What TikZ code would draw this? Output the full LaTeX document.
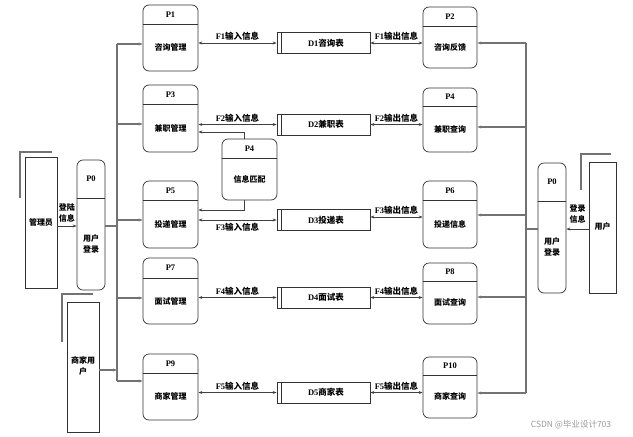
\documentclass[tikz,border=0pt]{standalone}
\usepackage{fontspec}
\setmainfont{Liberation Serif}
\newfontfamily\cjk{Noto Sans CJK SC}
\usetikzlibrary{arrows.meta,calc}
\newcommand\zh[1]{{\cjk\bfseries #1}}
\tikzset{
  pbox/.style={draw=black!80, line width=0.7pt, rounded corners=6pt, inner sep=0pt},
  dbox/.style={draw=black!80, line width=0.7pt, inner sep=0pt, minimum width=93pt, minimum height=21pt},
  ebox/.style={draw=black!80, line width=0.7pt, inner sep=0pt},
  shadowline/.style={draw=black!55, line width=1.3pt},
  divline/.style={draw=black!80, line width=0.7pt},
  plabel/.style={font=\bfseries\fontsize{8.5}{9}\selectfont, inner sep=0pt},
  ptext/.style={font=\cjk\bfseries\fontsize{8}{10}\selectfont, inner sep=0pt, align=center},
  flabel/.style={font=\bfseries\fontsize{8.5}{9}\selectfont, inner sep=0pt},
  conn/.style={draw=black!75, line width=0.7pt},
  busline/.style={draw=black!55, line width=1.2pt},
  arr/.style={-{Stealth[length=4pt,width=3pt]}},
  dbl/.style={{Stealth[length=4pt,width=3pt]}-{Stealth[length=4pt,width=3pt]}},
}
% name, cx, width, top, bottom, divider, label, text
\newcommand\proc[8]{%
  \node[pbox, minimum width={#3*1pt}, minimum height={(#5-#4)*1pt}] (#1) at (#2,{(#4+#5)/2}) {};
  \draw[divline] (#1.west |- 0,#6) -- (#1.east |- 0,#6);
  \node[plabel] (#1l) at (#2,{(#4+#6)/2}) {#7};
  \node[ptext] (#1t) at (#2,{(#6+#5)/2}) {#8};
}
% name, center y, text
\newcommand\store[3]{%
  \node[dbox] (#1) at (323.5,#2) {};
  \draw[divline] ($(#1.north west)+(5,0)$) -- ($(#1.south west)+(5,0)$);
  \node[flabel] (#1t) at (326,#2) {#3};
}
\begin{document}
\begin{tikzpicture}[x=1pt,y=-1pt]
\useasboundingbox (0,0) rectangle (633,437);

% ---- left actors ----
\node[ebox, minimum width=32pt, minimum height=131pt] (admin) at (41,222.5) {};
\node[ptext] (admint) at (41,222) {管理员};
\draw[shadowline] (20,198) -- (20,152) -- (52,152);

\proc{p0l}{91}{28}{160}{290}{198}{P0}{用户\\[1pt]登录}

\node[ebox, minimum width=32pt, minimum height=130pt] (biz) at (83,367) {};
\node[ptext] (bizt) at (83,366) {商家用\\[1pt]户};
\draw[shadowline] (62,342) -- (62,294) -- (93,294);

% ---- right actors ----
\proc{p0r}{552}{28}{163}{293}{201}{P0}{用户\\[1pt]登录}
\node[ebox, minimum width=27pt, minimum height=131pt] (user) at (602.5,227.5) {};
\node[ptext] (usert) at (602.5,226) {用户};
\draw[shadowline] (581,190) -- (581,154) -- (611,154);

% ---- processes left ----
\proc{p1}{170.5}{55}{5}{71}{24}{P1}{咨询管理}
\proc{p3}{170.5}{55}{85}{152}{104}{P3}{兼职管理}
\proc{p5}{170.5}{55}{181}{248}{200}{P5}{投递管理}
\proc{p7}{170.5}{55}{258}{324}{278}{P7}{面试管理}
\proc{p9}{170.5}{55}{354}{420}{373}{P9}{商家管理}

% ---- processes right ----
\proc{p2}{450}{54}{7}{68}{26}{P2}{咨询反馈}
\proc{p4}{450}{54}{88}{152}{106}{P4}{兼职查询}
\proc{p6}{450}{54}{181}{248}{200}{P6}{投递信息}
\proc{p8}{450}{54}{263}{324}{281}{P8}{面试查询}
\proc{p10}{450}{54}{357}{418}{375}{P10}{商家查询}

% ---- middle process ----
\proc{pm}{249.5}{55}{139}{200}{158}{P4}{信息匹配}

% ---- data stores ----
\store{d1}{43}{D1\zh{咨询表}}
\store{d2}{124.5}{D2\zh{兼职表}}
\store{d3}{220}{D3\zh{投递表}}
\store{d4}{297.5}{D4\zh{面试表}}
\store{d5}{392.5}{D5\zh{商家表}}

% ---- flows P <-> D ----
\draw[conn,dbl] (p1.east |- d1) -- (d1.west) node[flabel, midway, above=2pt] {F1\zh{输入信息}};
\draw[conn,dbl] (d1.east) -- (p2.west |- d1) node[flabel, midway, above=2pt] {F1\zh{输出信息}};
\draw[conn,dbl] (p3.east |- d2) -- (d2.west) node[flabel, midway, above=2pt] {F2\zh{输入信息}};
\draw[conn,dbl] (d2.east) -- (p4.west |- d2) node[flabel, midway, above=2pt] {F2\zh{输出信息}};
\draw[conn,dbl] (p5.east |- d3) -- (d3.west) node[flabel, midway, below=3pt] {F3\zh{输入信息}};
\draw[conn,dbl] ($(d3.east)+(0,-3)$) -- ($(p6.west |- d3)+(0,-3)$) node[flabel, midway, above=2pt] {F3\zh{输出信息}};
\draw[conn,dbl] (p7.east |- d4) -- (d4.west) node[flabel, midway, above=2pt] {F4\zh{输入信息}};
\draw[conn,dbl] (d4.east) -- (p8.west |- d4) node[flabel, midway, above=2pt] {F4\zh{输出信息}};
\draw[conn,dbl] (p9.east |- d5) -- (d5.west) node[flabel, midway, above=2pt] {F5\zh{输入信息}};
\draw[conn,dbl] (d5.east) -- (p10.west |- d5) node[flabel, midway, above=2pt] {F5\zh{输出信息}};

% ---- matching process links ----
\draw[conn,arr] ($(pm.north)+(-5,0)$) |- (p3.east |- 0,132);
\draw[conn,arr] ($(pm.south)+(-5,0)$) |- (p5.east |- 0,210);

% ---- actor flows ----
\draw[conn,arr] (admin.east |- 0,226) -- (p0l.west |- 0,226);
\node[ptext] (admlab) at (67,213) {登陆\\[1pt]信息};
\draw[conn,arr] (user.west |- 0,229) -- (p0r.east |- 0,229);
\node[ptext] (usrlab) at (577.5,214) {登录\\[1pt]信息};

% ---- left bus ----
\coordinate (busL) at (117,0);
\draw[busline] (busL |- 0,44) -- (busL |- 0,381);
\draw[busline] (p0l.east |- 0,226) -- (busL |- 0,226);
\draw[busline,arr] (biz.east |- 0,370) -- (busL |- 0,370);
\draw[busline,arr] (busL |- 0,44) -- (p1.west |- 0,44);
\draw[busline,arr] (busL |- 0,124) -- (p3.west |- 0,124);
\draw[busline,arr] (busL |- 0,220) -- (p5.west |- 0,220);
\draw[busline,arr] (busL |- 0,298) -- (p7.west |- 0,298);
\draw[busline,arr] (busL |- 0,381) -- (p9.west |- 0,381);

% ---- right bus ----
\coordinate (busR) at (526,0);
\draw[busline] (busR |- 0,43) -- (busR |- 0,393);
\draw[busline] (p0r.west |- 0,229) -- (busR |- 0,229);
\draw[busline,arr] (busR |- 0,43) -- (p2.east |- 0,43);
\draw[busline,arr] (busR |- 0,127) -- (p4.east |- 0,127);
\draw[busline,arr] (busR |- 0,215) -- (p6.east |- 0,215);
\draw[busline,arr] (busR |- 0,297) -- (p8.east |- 0,297);
\draw[busline,arr] (busR |- 0,393) -- (p10.east |- 0,393);

% ---- watermark ----
\node[font=\cjk\fontsize{8.5}{9}\selectfont, text=black!40, inner sep=0pt] (wm) at (571,425) {CSDN @毕业设计703};
\end{tikzpicture}
\end{document}
